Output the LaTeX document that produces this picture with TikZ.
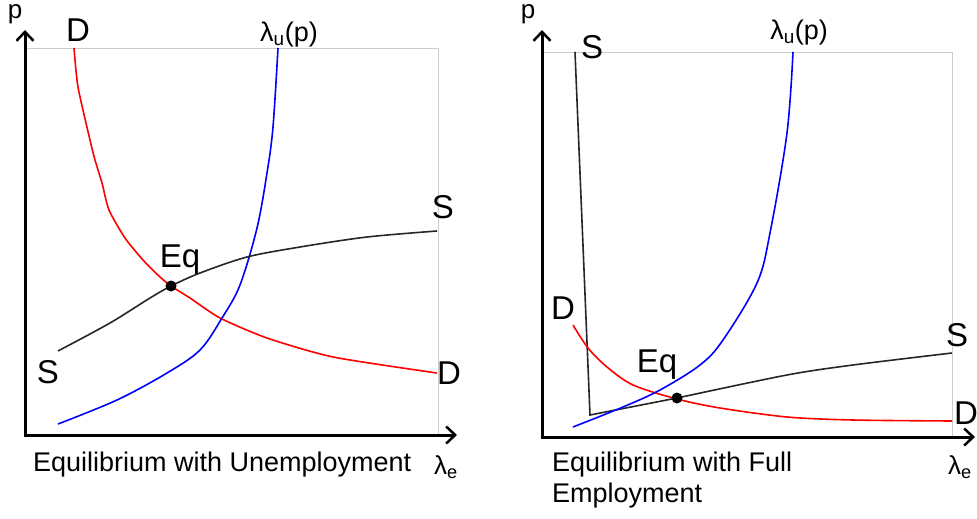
\documentclass[tikz,border=0pt]{standalone}
\usepackage{fontspec}
\setmainfont{Liberation Sans}
\usepackage{tikz}
\usetikzlibrary{arrows.meta,positioning}

\tikzset{
  axis/.style={line width=3pt, -{Straight Barb[length=9pt,width=17pt,line width=2.5pt]}},
  frame/.style={line width=0.8pt, color=black!20},
  dcurve/.style={line width=1.6pt, color=red},
  scurve/.style={line width=1.6pt, color=black!85},
  ucurve/.style={line width=1.6pt, color=blue},
  lbl/.style={font=\fontsize{33}{36}\selectfont, inner sep=0pt},
  axlbl/.style={font=\fontsize{26}{30}\selectfont, inner sep=0pt},
  ulbl/.style={font=\fontsize{27}{30}\selectfont, inner sep=0pt},
  caption/.style={font=\fontsize{27}{31}\selectfont, inner sep=0pt, align=left},
  eqdot/.style={circle, fill=black, inner sep=0pt, minimum size=11pt}
}

\begin{document}
\begin{tikzpicture}[x=1pt,y=-1pt]
  \useasboundingbox (0,0) rectangle (977,519);

  % Left panel: equilibrium with unemployment
  \draw[frame] (25,48) -- (438,48) -- (438,435);
  \draw[axis] (25,435) -- (25,30);
  \draw[axis] (23.5,435) -- (457,435);
  \draw[dcurve] plot[smooth, tension=0.4] coordinates {(74,48) (78,87) (90,140) (95,160) (102,183)
    (109,210) (125,238) (143,260) (160,277) (171,286) (190,298) (220,318) (267,338) (333,357) (437,373)};
  \draw[ucurve] plot[smooth, tension=0.55] coordinates {(58,424) (117,400) (167,373) (200,350)
    (222,318) (240,285) (257,228) (267,173) (273,127) (278,48)};
  \draw[scurve] plot[smooth, tension=0.5] coordinates {(58,351) (110,323) (150,298) (171,286) (200,273)
    (247,257) (300,247) (367,237) (437,231)};
  \node[eqdot] (eqL) at (171,286) {};
  \node[axlbl, anchor=base] (pL) at (15,19) {p};
  \node[lbl] (dTopL) at (78,30) {D};
  \node[ulbl] (uL) at (289,35) {λ\textsubscript{u}(p)};
  \node[lbl] (eqlblL) at (180,260) {Eq};
  \node[lbl] (sRightL) at (443,207) {S};
  \node[lbl] (sLeftL) at (48,372) {S};
  \node[lbl] (dRightL) at (449,373) {D};
  \node[caption, anchor=west] (capL) at (33,465) {Equilibrium with Unemployment};
  \node[axlbl] (eL) at (446,467) {λ\textsubscript{e}};

  % Right panel: equilibrium with full employment
  \draw[frame] (542,52) -- (952,52) -- (952,437);
  \draw[axis] (542,437) -- (542,30);
  \draw[axis] (540.5,437) -- (975,437);
  \draw[scurve] (575,52) -- (590,415) -- (677,398);
  \draw[scurve] plot[smooth, tension=0.5] coordinates {(677,398) (787,375) (853,365) (952,353)};
  \draw[dcurve] plot[smooth, tension=0.5] coordinates {(573,325) (588,348) (607,367) (633,385) (677,399)
    (720,408) (787,417) (853,420) (952,421)};
  \draw[ucurve] plot[smooth, tension=0.55] coordinates {(573,427) (623,407) (660,390) (700,365) (723,340)
    (757,283) (770,233) (787,133) (793,52)};
  \node[eqdot] (eqR) at (677,398) {};
  \node[axlbl, anchor=base] (pR) at (528,19) {p};
  \node[lbl] (sTopR) at (592,47) {S};
  \node[ulbl] (uR) at (799,33) {λ\textsubscript{u}(p)};
  \node[lbl] (dLeftR) at (563,308) {D};
  \node[lbl] (eqlblR) at (657,365) {Eq};
  \node[lbl] (sRightR) at (957,335) {S};
  \node[lbl] (dRightR) at (966,413) {D};
  \node[axlbl] (eR) at (960,467) {λ\textsubscript{e}};
  \node[caption, anchor=north west] (capR) at (552,452) {Equilibrium with Full\\Employment};
\end{tikzpicture}
\end{document}
